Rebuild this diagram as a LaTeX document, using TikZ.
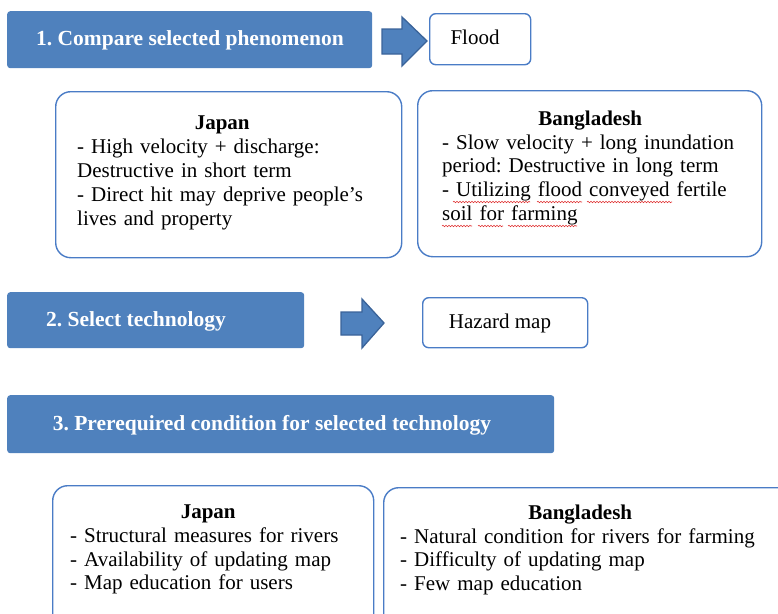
\documentclass[tikz,border=0pt]{standalone}
\usepackage{fontspec}
\setmainfont{Liberation Serif}
\frenchspacing
\usetikzlibrary{decorations.pathmorphing}
\definecolor{boxblue}{HTML}{4F81BD}
\definecolor{edgeblue}{HTML}{4A7CC6}
\definecolor{arrowedge}{HTML}{3A6399}
\definecolor{spellred}{HTML}{E03030}
\begin{document}
\begin{tikzpicture}[x=1pt,y=-1pt,
  font=\fontsize{21}{23.8}\selectfont,
  bluebox/.style={fill=boxblue, draw=none, rounded corners=3pt, inner sep=0pt, anchor=north west},
  whitebox/.style={fill=white, draw=edgeblue, line width=1.4pt, inner sep=0pt, anchor=north west},
  bluetext/.style={text=white, font=\fontsize{21.5}{23.5}\selectfont\bfseries, inner sep=0pt},
  bodytext/.style={inner sep=0pt, anchor=north west, align=left},
  blockarrow/.style={fill=boxblue, draw=arrowedge, line width=1.3pt, line join=miter},
  spell/.style={draw=spellred, line width=0.6pt, decorate, decoration={snake, amplitude=0.7pt, segment length=3pt}}
]
\useasboundingbox (0,0) rectangle (778,613);
\clip (0,0) rectangle (778,613);

% Step 1
\node[bluebox, minimum width=365pt, minimum height=57pt] (s1) at (7,11) {};
\node[bluetext, anchor=base] (t1) at (190,45) {1. Compare selected phenomenon};
\draw[blockarrow] (382,29) -- (402,29) -- (402,17) -- (427,41) -- (402,66) -- (402,54) -- (382,54) -- cycle;
\node[whitebox, rounded corners=6pt, minimum width=101pt, minimum height=51pt] (flood) at (429,13) {};
\node[inner sep=0pt, anchor=base] (tflood) at (475,44) {Flood};

% Comparison boxes
\node[whitebox, rounded corners=15pt, minimum width=346pt, minimum height=166pt] (jp1) at (55,91) {};
\node[bodytext, text width=290pt] (jp1t) at (77,116) {%
  \centering\textbf{Japan}\par\raggedright
  \mbox{- High velocity + discharge:}\\
  \mbox{Destructive in short term}\\
  \mbox{- Direct hit may deprive people’s}\\
  \mbox{lives and property}};

\node[whitebox, rounded corners=15pt, minimum width=344pt, minimum height=166pt] (bd1) at (417,90) {};
\node[bodytext, text width=296pt] (bd1t) at (442,110.5) {%
  \centering\textbf{Bangladesh}\par\raggedright
  \mbox{- Slow velocity + long inundation}\\
  \mbox{period: Destructive in long term}\\
  \mbox{- Utilizing flood conveyed fertile}\\
  \mbox{soil for farming}};
\draw[spell] (453,202) -- (530,202);
\draw[spell] (537,202) -- (582,202);
\draw[spell] (587,202) -- (672,202);
\draw[spell] (442,226) -- (472,226);
\draw[spell] (478,226) -- (503,226);
\draw[spell] (508,226) -- (577,226);

% Step 2
\node[bluebox, minimum width=297pt, minimum height=56pt] (s2) at (7,292) {};
\node[bluetext, anchor=base] (t2) at (136,326) {2. Select technology};
\draw[blockarrow] (341,312) -- (362,312) -- (362,299) -- (384,323) -- (362,348) -- (362,335) -- (341,335) -- cycle;
\node[whitebox, rounded corners=6pt, minimum width=165pt, minimum height=50pt] (hazard) at (422,297) {};
\node[inner sep=0pt, anchor=base] (thazard) at (500,328) {Hazard map};

% Step 3
\node[bluebox, minimum width=547pt, minimum height=58pt] (s3) at (7,395) {};
\node[bluetext, anchor=base] (t3) at (272,430) {3. Prerequired condition for selected technology};

% Condition boxes
\node[whitebox, rounded corners=15pt, minimum width=321pt, minimum height=160pt] (jp2) at (52,485) {};
\node[bodytext, text width=276pt] (jp2t) at (70,504.5) {%
  \centering\textbf{Japan}\par\raggedright
  \mbox{- Structural measures for rivers}\\
  \mbox{- Availability of updating map}\\
  \mbox{- Map education for users}};

\node[whitebox, rounded corners=15pt, minimum width=420pt, minimum height=160pt] (bd2) at (383,487) {};
\node[bodytext, text width=360pt] (bd2t) at (400,504.5) {%
  \centering\textbf{Bangladesh}\par\raggedright
  \mbox{- Natural condition for rivers for farming}\\
  \mbox{- Difficulty of updating map}\\
  \mbox{- Few map education}};
\end{tikzpicture}
\end{document}
